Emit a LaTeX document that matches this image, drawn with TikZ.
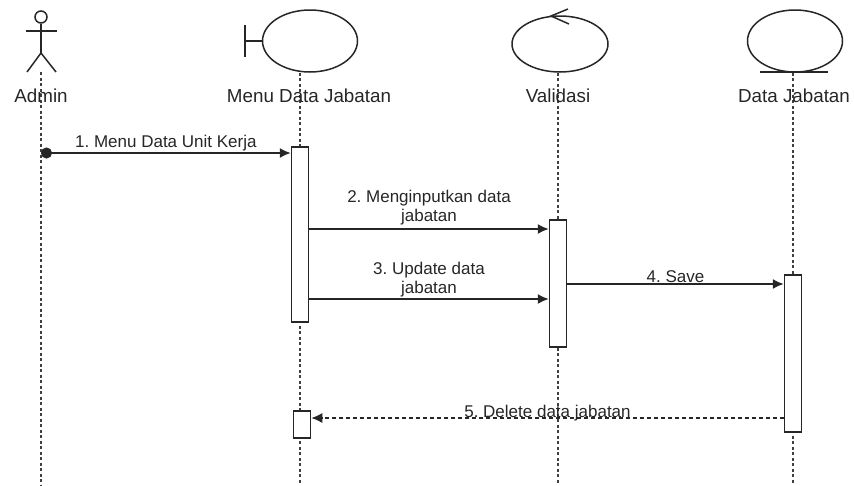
\documentclass[tikz,border=0pt]{standalone}
\usepackage{fontspec}
\setmainfont{Liberation Sans}
\usetikzlibrary{arrows.meta, positioning, shapes.geometric}
\frenchspacing

\begin{document}
\begin{tikzpicture}[
    x=1pt, y=-1pt,
    line width=1.5pt, draw=black!85,
    head/.style={ellipse, draw, minimum width=95pt, minimum height=62pt, inner sep=0pt},
    actbox/.style={rectangle, draw, fill=white, minimum width=17pt, inner sep=0pt},
    headlbl/.style={font=\fontsize{18.8}{22}\selectfont, text=black!85},
    lbl/.style={font=\fontsize{17}{19}\selectfont, align=center, text=black!85, inner sep=1pt},
    lifeline/.style={draw=black!75, line width=1.3pt, dash pattern=on 3pt off 2.5pt},
    msg/.style={-{Latex[length=11pt, width=10pt]}},
    ret/.style={msg, dash pattern=on 4pt off 3pt}
]
    \useasboundingbox (0,0) rectangle (854,485);

    % lifeline heads
    \node[circle, draw, minimum size=12pt, inner sep=0pt] (adminhead) at (41,17) {};
    \draw (adminhead.south) -- (41,53);
    \draw (26,31) -- (57,31);
    \draw (27,72) -- (41,53) -- (56,72);

    \node[head] (menu) at (310,41) {};
    \draw (menu.west) -- (245,41);
    \draw (245,25) -- (245,57);

    \node[head, minimum width=96pt, minimum height=56pt] (valid) at (560,44) {};
    \draw (568,9) -- (551,16) -- (569,24);

    \node[head] (data) at (795,41) {};
    \draw (760,72) -- (828,72);

    % lifelines
    \coordinate (adminend) at (41,485);
    \coordinate (menuend) at (300,485);
    \coordinate (validend) at (558,485);
    \coordinate (dataend) at (793,485);
    \draw[lifeline] (41,72) -- (adminend);
    \draw[lifeline] (menuend |- menu.south) -- (menuend);
    \draw[lifeline] (validend |- valid.south) -- (validend);
    \draw[lifeline] (dataend |- data.south) -- (dataend);

    \node[headlbl] (admin) at (41,96) {Admin};
    \node[headlbl] (menulbl) at (309,96) {Menu Data Jabatan};
    \node[headlbl] (validlbl) at (558,96) {Validasi};
    \node[headlbl] (datalbl) at (794,96) {Data Jabatan};

    % activations
    \node[actbox, minimum height=175pt] (menuA) at (300,234.5) {};
    \node[actbox, minimum height=127pt] (validA) at (558,283.5) {};
    \node[actbox, minimum height=157pt] (dataA) at (793,353.5) {};
    \node[actbox, minimum height=27pt] (menuB) at (302,424.5) {};

    % messages
    \coordinate (m1) at (41,153);
    \coordinate (m2) at (0,229);
    \coordinate (m3) at (0,299);
    \coordinate (m4) at (0,284);
    \coordinate (m5) at (0,418);
    \draw[{Circle[length=11pt]}-{Latex[length=11pt, width=10pt]}] (m1) -- node[lbl, above] {1. Menu Data Unit Kerja} (menuA.west |- m1);
    \draw[msg] (menuA.east |- m2) -- node[lbl, above=2pt] {2. Menginputkan data\\jabatan} (validA.west |- m2);
    \draw[msg] (menuA.east |- m3) -- node[lbl, above] {3. Update data\\jabatan} (validA.west |- m3);
    \draw[msg] (validA.east |- m4) -- node[lbl, above] {4. Save} (dataA.west |- m4);
    \draw[ret] (dataA.west |- m5) -- node[lbl, above=-5pt] {5. Delete data jabatan} (menuB.east |- m5);
\end{tikzpicture}
\end{document}
